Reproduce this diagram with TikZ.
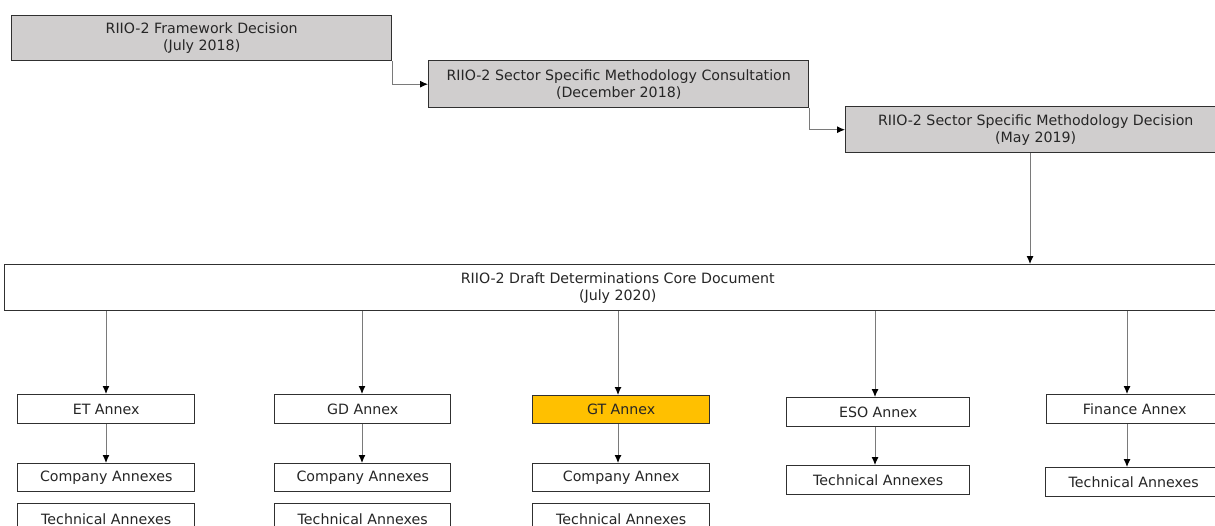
\documentclass[tikz,border=0pt]{standalone}
\usepackage{fontspec}
\setmainfont{DejaVu Sans}
\usetikzlibrary{arrows.meta}
\definecolor{boxgray}{HTML}{D0CECE}
\definecolor{gtorange}{HTML}{FFC000}
\definecolor{edge}{HTML}{303030}
\definecolor{conncol}{HTML}{7A7A7A}
\definecolor{txt}{HTML}{262626}
\begin{document}
\begin{tikzpicture}[x=1pt,y=-1pt,
  box/.style={draw=edge,line width=1.4pt,fill=white,anchor=north west,inner sep=0pt,
    align=center,text=txt,font=\fontsize{14.2}{17}\selectfont},
  graybox/.style={box,fill=boxgray},
  conn/.style={draw=conncol,line width=1pt,-{Latex[length=8pt,width=7pt,color=black]}}]
\useasboundingbox (0,0) rectangle (1215,525);
\clip (0,0) rectangle (1215,525);
% top chain
\node[graybox,minimum width=380pt,minimum height=45pt] (b1) at (11,15)
  {RIIO-2 Framework Decision\\(July 2018)};
\node[graybox,minimum width=380pt,minimum height=47pt] (b2) at (428,60)
  {RIIO-2 Sector Specific Methodology Consultation\\(December 2018)};
\node[graybox,minimum width=380pt,minimum height=46pt] (b3) at (845,106)
  {RIIO-2 Sector Specific Methodology Decision\\(May 2019)};
\node[box,minimum width=1226pt,minimum height=46pt] (core) at (4,264)
  {RIIO-2 Draft Determinations Core Document\\(July 2020)};
% annexes
\node[box,minimum width=177pt,minimum height=29pt] (et) at (17,394) {ET Annex};
\node[box,minimum width=176pt,minimum height=29pt] (gd) at (274,394) {GD Annex};
\node[box,fill=gtorange,minimum width=177pt,minimum height=28pt] (gt) at (532,395) {GT Annex};
\node[box,minimum width=183pt,minimum height=29pt] (eso) at (786,397) {ESO Annex};
\node[box,minimum width=176pt,minimum height=29pt] (fin) at (1046,394) {Finance Annex};
% second level
\node[box,minimum width=177pt,minimum height=28pt] (etc) at (17,463) {Company Annexes};
\node[box,minimum width=177pt,minimum height=30pt] (ett) at (17,503) {Technical Annexes};
\node[box,minimum width=176pt,minimum height=28pt] (gdc) at (274,463) {Company Annexes};
\node[box,minimum width=176pt,minimum height=30pt] (gdt) at (274,503) {Technical Annexes};
\node[box,minimum width=177pt,minimum height=28pt] (gtc) at (532,463) {Company Annex};
\node[box,minimum width=177pt,minimum height=30pt] (gtt) at (532,503) {Technical Annexes};
\node[box,minimum width=183pt,minimum height=29pt] (esot) at (786,465) {Technical Annexes};
\node[box,minimum width=176pt,minimum height=29pt] (fint) at (1045,467) {Technical Annexes};
% x positions of connectors
\coordinate (x3) at (1030,0);
\coordinate (xet) at (106,0);
\coordinate (xgd) at (362,0);
\coordinate (xgt) at (618,0);
\coordinate (xeso) at (875,0);
\coordinate (xfin) at (1127,0);
% connectors
\draw[conn] (b1.south east) |- (b2.west);
\draw[conn] (b2.south east) |- (b3.west);
\draw[conn] (b3.south -| x3) -- (core.north -| x3);
\draw[conn] (core.south -| xet) -- (et.north -| xet);
\draw[conn] (core.south -| xgd) -- (gd.north -| xgd);
\draw[conn] (core.south -| xgt) -- (gt.north -| xgt);
\draw[conn] (core.south -| xeso) -- (eso.north -| xeso);
\draw[conn] (core.south -| xfin) -- (fin.north -| xfin);
\draw[conn] (et.south -| xet) -- (etc.north -| xet);
\draw[conn] (gd.south -| xgd) -- (gdc.north -| xgd);
\draw[conn] (gt.south -| xgt) -- (gtc.north -| xgt);
\draw[conn] (eso.south -| xeso) -- (esot.north -| xeso);
\draw[conn] (fin.south -| xfin) -- (fint.north -| xfin);
\end{tikzpicture}
\end{document}
